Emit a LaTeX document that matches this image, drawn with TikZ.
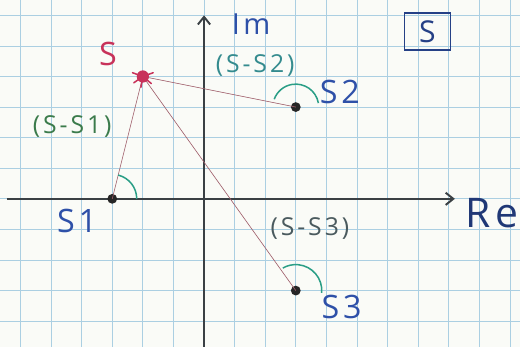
\documentclass[tikz,border=0pt]{standalone}
\usepackage{fontspec}
\setmainfont{Open Sans}
\newfontfamily\handfont[LetterSpace=12]{Open Sans}
\usetikzlibrary{arrows.meta}
\definecolor{paper}{HTML}{FAFBF7}
\definecolor{gridblue}{HTML}{ABCFE2}
\definecolor{axisgray}{HTML}{3A4044}
\definecolor{inkblue}{HTML}{2E50A8}
\definecolor{inkred}{HTML}{C8325A}
\definecolor{inkteal}{HTML}{2A9E86}
\definecolor{vecline}{HTML}{A0606C}
\definecolor{inkgray}{HTML}{4A5A5E}

\begin{document}
\begin{tikzpicture}[>={Straight Barb[length=2.5mm,width=4mm]},
  lbl/.style={inner sep=0pt,font=\handfont\fontsize{30}{32}\selectfont},
  diff/.style={inner sep=0pt,inkgray,font=\handfont\fontsize{23}{25}\selectfont},
  pole/.style={circle,fill=black!85,inner sep=0pt,minimum size=3.2mm},
  angle/.style={inkteal,line width=1.4pt}]
  % papier quadrillé : 1 carreau = 1 unité
  \fill[paper] (-6.67,-4.84) rectangle (10.33,6.5);
  \useasboundingbox (-6.67,-4.84) rectangle (10.33,6.5);
  \draw[gridblue,line width=0.7pt] (-6.67,-4.84) grid (10.33,6.5);
  % axes
  \coordinate (xa) at (-6.45,0);
  \coordinate (xb) at (8.2,0);
  \coordinate (ya) at (0,-4.84);
  \coordinate (yb) at (0,6.0);
  \draw[->,axisgray,line width=1.8pt] (xa) -- (xb);
  \draw[->,axisgray,line width=1.8pt] (ya) -- (yb);
  \node[lbl,inkblue!70!black,font=\handfont\fontsize{38}{40}\selectfont] (re) at (9.4,-0.46) {Re};
  \node[lbl,inkblue,font=\handfont\fontsize{27}{29}\selectfont] (im) at (1.54,5.72) {Im};
  % pôles et point s
  \coordinate (S) at (-2,4);
  \node[pole] (S1) at (-3,0) {};
  \node[pole] (S2) at (3,3) {};
  \node[pole] (S3) at (3,-3) {};
  % vecteurs (s - s_i)
  \draw[vecline,line width=0.6pt] (S) -- (S1.center);
  \draw[vecline,line width=0.6pt] (S) -- (S2.center);
  \draw[vecline,line width=0.6pt] (S) -- (S3.center);
  % angles
  \draw[angle] (S1.center) ++(0:0.8) arc (0:76:0.8);
  \draw[angle] (S2.center) ++(10:0.75) arc (10:160:0.75);
  \draw[angle] (S3.center) ++(-5:0.85) arc (-5:120:0.85);
  % le point s (rouge)
  \fill[inkred] (S) circle (0.2);
  \foreach \a in {20,160,215,260,320}
    \draw[inkred,line width=1.4pt,line cap=round] (S) -- ++(\a:0.36);
  \node[lbl,inkred] (slbl) at (-3.14,4.74) {S};
  % étiquettes
  \node[lbl,inkblue] (s1lbl) at (-4.15,-0.72) {S1};
  \node[lbl,inkblue] (s2lbl) at (4.44,3.48) {S2};
  \node[lbl,inkblue] (s3lbl) at (4.5,-3.53) {S3};
  \node[diff,inkgray!70!cyan] (d2) at (1.67,4.35) {(S-S2)};
  \node[diff,inkgray!80!green] (d1) at (-4.31,2.35) {(S-S1)};
  \node[diff] (d3) at (3.46,-0.98) {(S-S3)};
  % encadré
  \node[draw=inkblue!80!black,line width=1.4pt,minimum width=1.5cm,minimum height=1.2cm,
    inner sep=0pt,text=inkblue!80!black,font=\fontsize{28}{30}\selectfont] (box) at (7.3,5.47) {S};
\end{tikzpicture}
\end{document}
